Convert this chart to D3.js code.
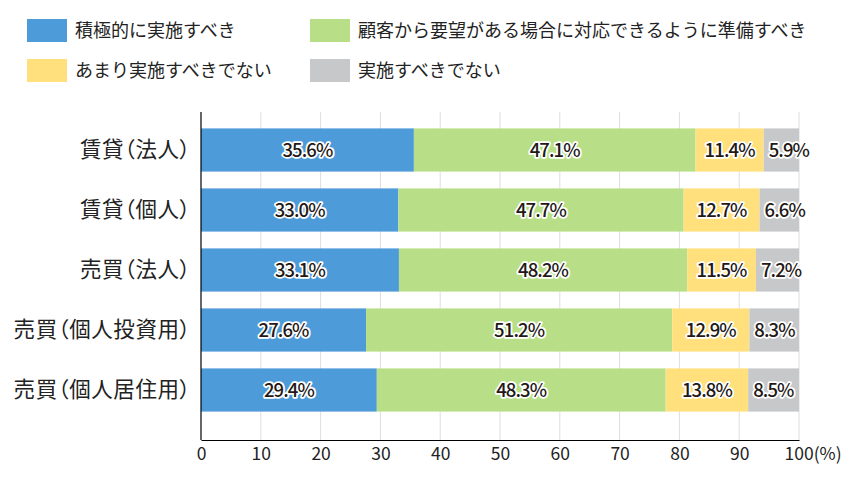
<!DOCTYPE html>
<html>
<head>
<meta charset="utf-8">
<script src="https://cdn.jsdelivr.net/npm/d3@7"></script>
<style>
  body { margin: 0; background: #fff; }
  svg { font-family: "Noto Sans CJK JP", "Noto Sans", sans-serif; }
</style>
</head>
<body>
<div class="chart"></div>
<script>
var categories = ['賃貸（法人）', '賃貸（個人）', '売買（法人）', '売買（個人投資用）', '売買（個人居住用）'];
var seriesNames = ['積極的に実施すべき', '顧客から要望がある場合に対応できるように準備すべき', 'あまり実施すべきでない', '実施すべきでない'];
var seriesColors = ['#4e9bd9', '#b8df87', '#ffe07c', '#c7c8ca'];
var active = [35.6, 33.0, 33.1, 27.6, 29.4];
var prepare = [47.1, 47.7, 48.2, 51.2, 48.3];
var notMuch = [11.4, 12.7, 11.5, 12.9, 13.8];
var notAtAll = [5.9, 6.6, 7.2, 8.3, 8.5];
var xTicks = [0, 10, 20, 30, 40, 50, 60, 70, 80, 90, 100];

var series = [active, prepare, notMuch, notAtAll];

var svg = d3.select('.chart').append('svg')
            .attr('width', 850)
            .attr('height', 480);

var x = d3.scaleLinear().domain([0, 100]).range([201, 799]);
var y = d3.scaleBand().domain(categories).range([120, 420]).paddingInner(0.28).paddingOuter(0.14);

// grid lines
svg.append('g').selectAll('line')
    .data(xTicks.slice(1))
    .enter().append('line')
      .attr('x1', function(d){ return x(d); })
      .attr('x2', function(d){ return x(d); })
      .attr('y1', 112)
      .attr('y2', 440)
      .attr('stroke', '#dedede')
      .attr('stroke-width', 1);

// stacked bars
var rows = categories.map(function(c, i){
  var start = 0;
  return series.map(function(s, k){
    var seg = { cat: c, k: k, x0: start, x1: start + s[i], v: s[i] };
    start += s[i];
    return seg;
  });
});

var rowG = svg.append('g').selectAll('g')
    .data(rows)
    .enter().append('g');

rowG.selectAll('rect')
    .data(function(d){ return d; })
    .enter().append('rect')
      .attr('x', function(d){ return x(d.x0); })
      .attr('width', function(d){ return x(d.x1) - x(d.x0); })
      .attr('y', function(d){ return y(d.cat); })
      .attr('height', y.bandwidth())
      .attr('fill', function(d){ return seriesColors[d.k]; });

rowG.selectAll('text')
    .data(function(d){ return d; })
    .enter().append('text')
      .attr('x', function(d){ return d.k === 3 ? x(d.x0) + 5 : (x(d.x0) + x(d.x1)) / 2; })
      .attr('y', function(d){ return y(d.cat) + y.bandwidth() / 2; })
      .attr('dy', '0.36em')
      .attr('text-anchor', function(d){ return d.k === 3 ? 'start' : 'middle'; })
      .attr('font-size', 18.5)
      .attr('font-weight', 500)
      .attr('letter-spacing', -0.9)
      .attr('fill', '#231815')
      .attr('stroke', '#fff')
      .attr('stroke-width', 3.5)
      .attr('stroke-linejoin', 'round')
      .attr('paint-order', 'stroke')
      .text(function(d){ return d.v.toFixed(1) + '%'; });

// axes
var xAxis = svg.append('g')
    .attr('transform', 'translate(0,440)')
    .call(d3.axisBottom(x).tickValues(xTicks).tickSize(0).tickPadding(8)
      .tickFormat(function(d){ return d === 100 ? '100(%)' : d; }));
xAxis.select('.domain').attr('stroke', '#000').attr('stroke-width', 1.2);
xAxis.selectAll('text')
    .attr('font-size', 17.5)
    .attr('fill', '#222')
    .attr('font-family', '"Noto Sans CJK JP", sans-serif');
xAxis.selectAll('.tick').filter(function(d){ return d === 100; }).select('text')
    .attr('text-anchor', 'start')
    .attr('x', -15);

var yAxis = svg.append('g')
    .attr('transform', 'translate(201,0)')
    .call(d3.axisLeft(y).tickSize(0).tickPadding(10));
yAxis.select('.domain').attr('stroke', '#000').attr('stroke-width', 1.2)
    .attr('d', 'M0,112V440');
yAxis.selectAll('text')
    .attr('font-size', 21.5)
    .attr('letter-spacing', 0.6)
    .attr('fill', '#222')
    .attr('font-family', '"Noto Sans CJK JP", sans-serif')
    .style('font-feature-settings', '"palt"');

// legend
var legendPos = [[27, 19], [310, 19], [27, 59], [310, 59]];
var legend = svg.append('g').selectAll('g')
    .data(seriesNames)
    .enter().append('g')
      .attr('transform', function(d, i){ return 'translate(' + legendPos[i][0] + ',' + legendPos[i][1] + ')'; });
legend.append('rect')
    .attr('width', 40)
    .attr('height', 23)
    .attr('fill', function(d, i){ return seriesColors[i]; });
legend.append('text')
    .attr('x', 48)
    .attr('y', 11.5)
    .attr('dy', '0.36em')
    .attr('font-size', 18)
    .attr('fill', '#222')
    .text(function(d){ return d; });
</script>
</body>
</html>
